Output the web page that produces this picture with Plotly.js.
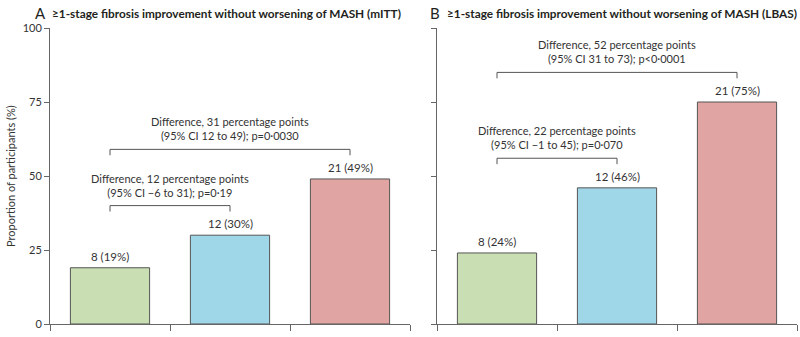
<!DOCTYPE html>
<html><head><meta charset="utf-8">
<script src="https://cdn.plot.ly/plotly-3.0.1.min.js"></script>
<style>html,body{margin:0;padding:0;background:#fff}#chart{width:800px;height:337px}</style>
</head><body><div id="chart"></div>
<script>
// ---- data ----
const armIndex = [0, 1, 2];
const armNames = ['Arm 1', 'Arm 2', 'Arm 3'];
const armColors = ['#c9dfb3', '#9fd6e8', '#e0a5a3'];
const panelLetters = ['A', 'B'];
const panelTitles = [
  '≥1-stage fibrosis improvement without worsening of MASH (mITT)',
  '≥1-stage fibrosis improvement without worsening of MASH (LBAS)'
];
const mittCounts = [8, 12, 21];
const mittPct = [19, 30, 49];
const lbasCounts = [8, 12, 21];
const lbasPct = [24, 46, 75];
const yTicks = [0, 25, 50, 75, 100];
const yTitle = 'Proportion of participants (%)';
const mittCompareFrom = [0, 0];
const mittCompareTo = [1, 2];
const mittDiffText = ['Difference, 12 percentage points', 'Difference, 31 percentage points'];
const mittCIText = ['(95% CI −6 to 31); p=0·19', '(95% CI 12 to 49); p=0·0030'];
const lbasCompareFrom = [0, 0];
const lbasCompareTo = [1, 2];
const lbasDiffText = ['Difference, 22 percentage points', 'Difference, 52 percentage points'];
const lbasCIText = ['(95% CI −1 to 45); p=0·070', '(95% CI 31 to 73); p<0·0001'];

// ---- styling ----
const FONT = 'Lato, "Open Sans", sans-serif';
const TXT = '#333333';
const AX = '#666666';
const W = 800, H = 337;
const plotTop = 28, plotBottom = 324;
const panelsX = [[50, 410], [437, 797]];
const letterX = [33, 428];
const titleX = [50, 445];
const yDom = [(H - plotBottom) / H, (H - plotTop) / H];

const panels = [
  {counts: mittCounts, pct: mittPct, from: mittCompareFrom, to: mittCompareTo, diff: mittDiffText, ci: mittCIText},
  {counts: lbasCounts, pct: lbasPct, from: lbasCompareFrom, to: lbasCompareTo, diff: lbasDiffText, ci: lbasCIText}
];

const traces = [];
const shapes = [];
const annotations = [];
const layout = {
  width: W, height: H,
  margin: {l: 0, r: 0, t: 0, b: 0},
  paper_bgcolor: '#fff', plot_bgcolor: '#fff',
  showlegend: false,
  font: {family: FONT, size: 11, color: TXT}
};

panels.forEach((p, k) => {
  const sx = k === 0 ? '' : '2';
  const xa = 'x' + sx, ya = 'y' + sx;
  traces.push({
    type: 'bar', x: armIndex, y: p.pct, name: panelLetters[k],
    xaxis: xa, yaxis: ya, width: 0.66,
    marker: {color: armColors, line: {color: '#555555', width: 1}},
    hoverinfo: 'skip'
  });
  layout['xaxis' + sx] = {
    domain: [panelsX[k][0] / W, panelsX[k][1] / W], anchor: ya,
    range: [-0.5, 2.5], showgrid: false, zeroline: false,
    showline: true, linecolor: AX, linewidth: 1,
    tickmode: 'array', tickvals: [-0.5, 0.5, 1.5, 2.5], ticktext: ['', '', '', ''],
    ticks: 'outside', ticklen: 6, tickcolor: AX, fixedrange: true
  };
  layout['yaxis' + sx] = {
    domain: yDom, anchor: xa, range: [0, 100], showgrid: false, zeroline: false,
    showline: true, linecolor: AX, linewidth: 1,
    tickmode: 'array', tickvals: yTicks, showticklabels: k === 0,
    ticks: 'outside', ticklen: 5, tickcolor: AX,
    tickfont: {size: 11, color: TXT, family: FONT}, fixedrange: true
  };
  // bar labels
  armIndex.forEach((i) => {
    annotations.push({
      xref: xa, yref: ya, x: i, y: p.pct[i], yanchor: 'bottom', yshift: 3,
      showarrow: false, text: p.counts[i] + ' (' + p.pct[i] + '%)',
      font: {size: 11.5, color: TXT, family: FONT}
    });
  });
  // comparison brackets
  p.from.forEach((a, j) => {
    const b = p.to[j];
    const level = Math.max(...p.pct.slice(a, b + 1)) + 10;
    shapes.push({
      type: 'path', xref: xa, yref: ya,
      path: `M ${a},${level - 2} L ${a},${level} L ${b},${level} L ${b},${level - 2}`,
      line: {color: '#555555', width: 1}
    });
    annotations.push({
      xref: xa, yref: ya, x: (a + b) / 2, y: level, yanchor: 'bottom', yshift: 5,
      showarrow: false, text: p.diff[j] + '<br>' + p.ci[j],
      font: {size: 11, color: TXT, family: FONT}
    });
  });
  // panel letter and title
  annotations.push({
    xref: 'paper', yref: 'paper', x: letterX[k] / W, y: (H - 13) / H,
    xanchor: 'left', yanchor: 'middle', showarrow: false, text: panelLetters[k],
    font: {size: 15, color: '#231f20', family: FONT}
  });
  annotations.push({
    xref: 'paper', yref: 'paper', x: titleX[k] / W, y: (H - 13) / H,
    xanchor: 'left', yanchor: 'middle', showarrow: false, text: '<b>' + panelTitles[k] + '</b>',
    font: {size: 11.8, color: '#231f20', family: FONT}
  });
});

annotations.push({
  xref: 'paper', yref: 'paper', x: 10 / W, y: (H - 176) / H,
  xanchor: 'center', yanchor: 'middle', showarrow: false, textangle: -90,
  text: yTitle, font: {size: 11, color: TXT, family: FONT}
});

layout.shapes = shapes;
layout.annotations = annotations;
Plotly.newPlot('chart', traces, layout, {staticPlot: true, displayModeBar: false});
</script></body></html>
